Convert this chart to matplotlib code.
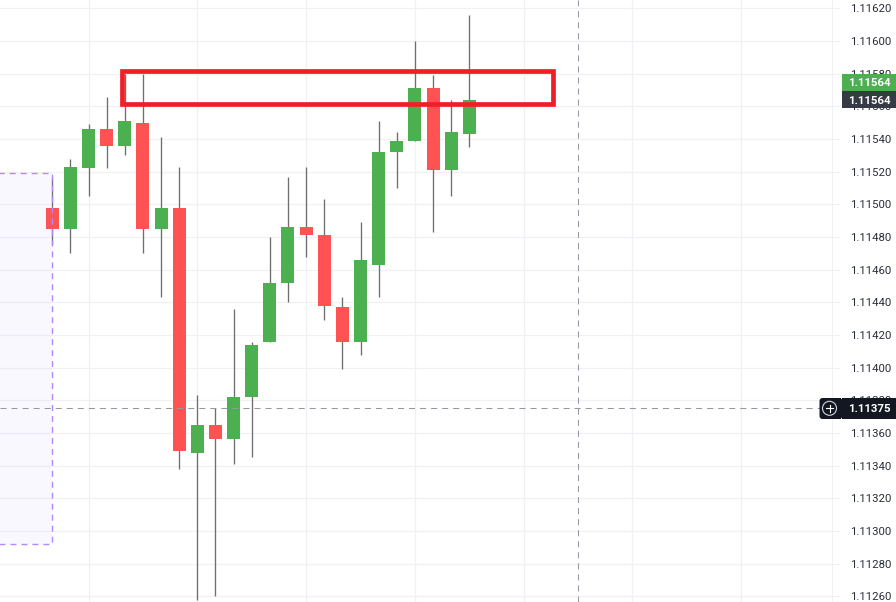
#!/usr/bin/env python

from matplotlib import pyplot as plt
from matplotlib import transforms
from matplotlib.patches import Rectangle, FancyBboxPatch, Circle
import numpy as np

opens = [1.11498, 1.11485, 1.11522, 1.11546, 1.11536, 1.11550, 1.11485, 1.11498,
         1.11348, 1.11365, 1.11356, 1.11382, 1.11416, 1.11452, 1.11486, 1.11481,
         1.11437, 1.11416, 1.11463, 1.11532, 1.11539, 1.11571, 1.11521, 1.11543]
highs = [1.11516, 1.11528, 1.11549, 1.11566, 1.11580, 1.11580, 1.11541, 1.11523,
         1.11383, 1.11375, 1.11436, 1.11416, 1.11480, 1.11517, 1.11523, 1.11503,
         1.11443, 1.11489, 1.11551, 1.11544, 1.11600, 1.11579, 1.11564, 1.11616]
lows = [1.11475, 1.11470, 1.11505, 1.11522, 1.11530, 1.11470, 1.11443, 1.11338,
        1.11258, 1.11260, 1.11341, 1.11345, 1.11416, 1.11440, 1.11468, 1.11429,
        1.11399, 1.11408, 1.11443, 1.11510, 1.11539, 1.11483, 1.11505, 1.11535]
closes = [1.11485, 1.11523, 1.11546, 1.11536, 1.11551, 1.11485, 1.11498, 1.11349,
          1.11365, 1.11356, 1.11382, 1.11414, 1.11452, 1.11486, 1.11481, 1.11438,
          1.11416, 1.11466, 1.11532, 1.11539, 1.11571, 1.11521, 1.11544, 1.11564]

price_ticks = [1.11260, 1.11280, 1.11300, 1.11320, 1.11340, 1.11360, 1.11380, 1.11400, 1.11420,
               1.11440, 1.11460, 1.11480, 1.11500, 1.11520, 1.11540, 1.11560, 1.11580, 1.11600, 1.11620]
grid_bars = [2, 8, 14, 20, 26, 32, 38]

last_price = 1.11564
cross_price = 1.11375
cross_bar = 29
zone_top, zone_bottom = 1.11519, 1.11292
box_left, box_right = 3.86, 27.6
box_top, box_bottom = 1.115814, 1.115612

GREEN = '#4caf50'
RED = '#ff5252'
W, H = 896, 602

fig = plt.figure(figsize=(W / 100, H / 100), dpi=100)
ax = fig.add_axes([0, 0, 832 / W, 1])
ax.set_xlim(-2.885, 43.006)
ax.set_ylim(1.112565, 1.116251)
ax.set_axisbelow(True)

for name in ['top', 'left', 'bottom']:
    ax.spines[name].set_visible(False)
ax.spines['right'].set_color('#f0f1f4')
ax.spines['right'].set_linewidth(0.72)

ax.yaxis.tick_right()
ax.set_yticks(price_ticks)
ax.set_yticklabels(['%.5f' % p for p in price_ticks], fontsize=8.2, color='#2a2e39',
                   family='Roboto')
ax.tick_params(axis='y', length=5.8, width=0.72, color='#f0f1f4', pad=7)
ax.set_xticks(grid_bars)
ax.tick_params(axis='x', length=0, labelbottom=False)
ax.grid(True, color='#f0f1f4', linewidth=0.9)

# candles
x = np.arange(len(opens))
o = np.array(opens)
c = np.array(closes)
colors = [GREEN if cl > op else RED for op, cl in zip(opens, closes)]
ax.vlines(x, lows, highs, color='#6e6e70', linewidth=0.95, zorder=2)
ax.bar(x, np.abs(c - o), bottom=np.minimum(o, c), width=0.717, color=colors, linewidth=0, zorder=3)

# purple zone on the left, runs out of the picture
ax.add_patch(Rectangle((-5, zone_bottom), 5, zone_top - zone_bottom, facecolor='#b388ff', alpha=0.055,
                       linewidth=0, zorder=4))
ax.add_patch(Rectangle((-5, zone_bottom), 5, zone_top - zone_bottom, fill=False, edgecolor='#b388ff',
                       linewidth=1.0, linestyle=(0, (4.3, 3.6)), zorder=4))

# crosshair
ax.axhline(cross_price, color='#9598a1', linewidth=0.75, linestyle=(0, (5.8, 4.8)), zorder=5)
ax.axvline(cross_bar, color='#9598a1', linewidth=0.75, linestyle=(0, (5.8, 4.8)), zorder=5)

# the red box
ax.add_patch(Rectangle((box_left, box_bottom), box_right - box_left, box_top - box_bottom, fill=False,
                       edgecolor='#f01f27', linewidth=3.4, joinstyle='miter', zorder=6))

# price labels, in pixels from the top left
px = transforms.Affine2D().scale(1 / W, -1 / H).translate(0, 1) + fig.transFigure
labels = [(74, 91, GREEN, '%.5f' % last_price), (91, 108, '#363a45', '%.5f' % last_price),
          (398, 419, '#131722', '%.5f' % cross_price)]
for top, bottom, col, txt in labels:
    fig.add_artist(Rectangle((842, top), 54, bottom - top, facecolor=col, linewidth=0, transform=px, zorder=8))
    fig.text(891, (top + bottom) / 2, txt, transform=px, color='white', fontsize=8.2, fontweight='bold',
             family='Roboto', ha='right', va='center_baseline', zorder=9)

# plus button next to the crosshair label
fig.add_artist(FancyBboxPatch((821, 399.5), 20, 18, boxstyle='round,pad=1.5,rounding_size=3', facecolor='#131722',
                              linewidth=0, transform=px, zorder=8))
fig.add_artist(Rectangle((836, 398), 5, 21, facecolor='#131722', linewidth=0, transform=px, zorder=8))
fig.add_artist(Circle((829.5, 408.3), 7, facecolor='none', edgecolor='#d1d4dc', linewidth=0.8, transform=px, zorder=9))
fig.add_artist(plt.Line2D([826, 833], [408.3, 408.3], color='white', linewidth=0.8, transform=px, zorder=9))
fig.add_artist(plt.Line2D([829.5, 829.5], [404.8, 411.8], color='white', linewidth=0.8, transform=px, zorder=9))

fig.savefig('out.png', dpi=100)
